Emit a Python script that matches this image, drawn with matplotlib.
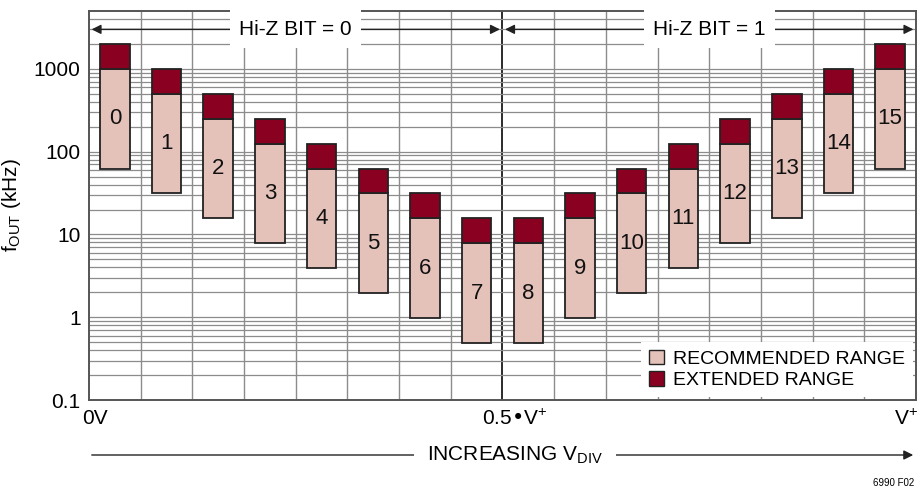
import numpy as np
import matplotlib
matplotlib.use("Agg")
from matplotlib import pyplot as plt
from matplotlib.patches import Patch, FancyArrowPatch

plt.rcParams["font.family"] = ["Liberation Sans Narrow", "Liberation Sans", "DejaVu Sans"]
plt.rcParams["mathtext.default"] = "regular"

# DIVCODE 0..15, frequency ranges in kHz
codes = list(range(16))
rec_low = [62.5, 31.25, 15.63, 7.81, 3.91, 1.95, 0.98, 0.49,
           0.49, 0.98, 1.95, 3.91, 7.81, 15.63, 31.25, 62.5]
rec_high = [1000, 500, 250, 125, 62.5, 31.25, 15.63, 7.81,
            7.81, 15.63, 31.25, 62.5, 125, 250, 500, 1000]
ext_high = [2000, 1000, 500, 250, 125, 62.5, 31.25, 15.63,
            15.63, 31.25, 62.5, 125, 250, 500, 1000, 2000]
ytick_vals = [0.1, 1, 10, 100, 1000]
ytick_labels = ["0.1", "1", "10", "100", "1000"]

REC_COLOR = "#e4c1b9"
EXT_COLOR = "#8a0021"
EDGE = "#222222"
FS = 15

fig = plt.figure(figsize=(9.2, 4.9), dpi=100)
ax = fig.add_axes([89 / 920, 1 - 400 / 490, 827 / 920, 389 / 490])
ax.set_yscale("log")
ax.set_ylim(0.1, 5000)
ax.set_xlim(0, 16)

# grid
for xv in range(1, 16):
    ax.axvline(xv, color="#1a1a1a" if xv == 8 else "#8c8c8c",
               lw=1.3 if xv == 8 else 1.0, zorder=1)
for dec in [0.1, 1, 10, 100, 1000]:
    for m in range(1, 10):
        v = dec * m
        if 0.1 < v < 5000:
            ax.axhline(v, color="#8c8c8c", lw=0.9, zorder=1)

x = np.array(codes) + 0.5
rec_low = np.array(rec_low)
rec_high = np.array(rec_high)
ext_high = np.array(ext_high)
ax.bar(x, rec_high - rec_low, bottom=rec_low, width=0.57,
       color=REC_COLOR, edgecolor=EDGE, lw=1.3, zorder=3)
ax.bar(x, ext_high - rec_high, bottom=rec_high, width=0.57,
       color=EXT_COLOR, edgecolor=EDGE, lw=1.3, zorder=3)
for xi, lo, hi, c in zip(x, rec_low, rec_high, codes):
    ax.text(xi, np.sqrt(lo * hi), str(c), ha="center", va="center",
            fontsize=FS + 1, color="#111111", zorder=4)

ax.set_yticks(ytick_vals)
ax.set_yticklabels(ytick_labels, fontsize=FS)
ax.yaxis.set_minor_locator(matplotlib.ticker.NullLocator())
ax.tick_params(axis="y", length=0, pad=6)
ax.set_xticks([])
ax.set_ylabel(r"$f_{OUT}$ (kHz)", fontsize=FS, labelpad=8)
for s in ax.spines.values():
    s.set_color("#555555")
    s.set_linewidth(1.4)
    s.set_zorder(5)

# x labels
ax.text(-0.13, 0.077, "0V", ha="left", va="top", fontsize=FS)
ax.text(7.6, 0.077, r"0.5•$V^{+}$", ha="left", va="top", fontsize=FS)
ax.text(15.58, 0.077, r"$V^{+}$", ha="left", va="top", fontsize=FS)

# Hi-Z BIT arrows
for x0, x1, xc, lab in [(0.05, 7.95, 4, "Hi-Z BIT = 0"), (8.05, 15.95, 12, "Hi-Z BIT = 1")]:
    ax.annotate("", xy=(x0, 3000), xytext=(x1, 3000),
                arrowprops=dict(arrowstyle="<|-|>", color="#222222", lw=1.0,
                                mutation_scale=14, shrinkA=0, shrinkB=0), zorder=6)
    ax.text(xc, 3000, lab, ha="center", va="center", fontsize=FS, zorder=7,
            bbox=dict(boxstyle="square,pad=0.45", fc="white", ec="none"))

# legend
handles = [Patch(facecolor=REC_COLOR, edgecolor=EDGE, label="RECOMMENDED RANGE"),
           Patch(facecolor=EXT_COLOR, edgecolor=EDGE, label="EXTENDED RANGE")]
leg = ax.legend(handles=handles, loc="lower right", fontsize=FS - 1, frameon=True,
                fancybox=False, framealpha=1, edgecolor="none", handlelength=0.75,
                handleheight=0.75, handletextpad=0.5, borderaxespad=0.15,
                labelspacing=0.2, borderpad=0.4)
leg.set_zorder(8)

# INCREASING V_DIV arrow
fig.patches.append(FancyArrowPatch(
    (89 / 920, 1 - 455 / 490), (916 / 920, 1 - 455 / 490),
    transform=fig.transFigure, arrowstyle="-|>", mutation_scale=14,
    color="#222222", lw=1.0))
fig.text(515 / 920, 1 - 455 / 490, r"INCREASING $V_{DIV}$", ha="center", va="center",
         fontsize=FS, zorder=5,
         bbox=dict(boxstyle="square,pad=0.6", fc="white", ec="none"))
fig.text(914 / 920, 1 - 483 / 490, "6990 F02", ha="right", va="center", fontsize=7)

fig.savefig("out.png", dpi=100)
